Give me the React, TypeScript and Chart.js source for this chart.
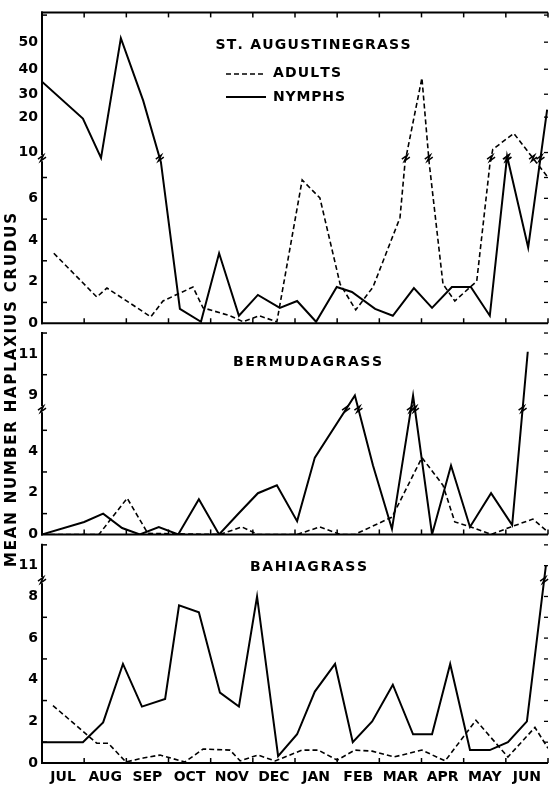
import React, { useEffect, useRef } from 'react';
import { Chart, LinearScale, registerables } from 'chart.js';

Chart.register(...registerables);

// ---------------- data ----------------
const MONTHS = ['JUL', 'AUG', 'SEP', 'OCT', 'NOV', 'DEC', 'JAN', 'FEB', 'MAR', 'APR', 'MAY', 'JUN'];

// St. Augustinegrass (x in months from 1 July)
const STA_NYMPH_X = [0, 0.97, 1.4, 1.87, 2.4, 2.82, 3.27, 3.77, 4.2, 4.67, 5.12, 5.64, 6.05, 6.5, 6.99, 7.35, 7.9, 8.32, 8.82, 9.25, 9.72, 10.17, 10.62, 11.03, 11.53, 11.98];
const STA_NYMPH_Y = [35, 19.6, 8.6, 51.5, 27.2, 7.74, 0.69, 0.07, 3.36, 0.36, 1.36, 0.74, 1.07, 0.07, 1.74, 1.5, 0.69, 0.36, 1.69, 0.74, 1.74, 1.74, 0.36, 9.0, 3.64, 23.3];
const STA_ADULT_X = [0.28, 1.3, 1.54, 2.58, 2.87, 3.58, 3.82, 4.46, 4.77, 5.15, 5.57, 6.17, 6.59, 7.07, 7.44, 7.85, 8.49, 8.61, 9.01, 9.18, 9.51, 9.79, 10.31, 10.62, 10.69, 11.19, 12.0];
const STA_ADULT_Y = [3.36, 1.26, 1.69, 0.31, 1.07, 1.74, 0.74, 0.36, 0.07, 0.36, 0.07, 6.88, 6.02, 1.88, 0.64, 1.74, 5.07, 7.74, 36.5, 7.74, 1.88, 1.07, 2.02, 7.6, 10.9, 15.4, 7.0];

// Bermudagrass
const BER_NYMPH_X = [0, 1.0, 1.45, 1.9, 2.32, 2.77, 3.23, 3.72, 4.2, 4.65, 5.12, 5.57, 6.05, 6.47, 7.42, 7.85, 8.3, 8.8, 9.25, 9.7, 10.15, 10.65, 11.15, 11.52];
const BER_NYMPH_Y = [0, 0.6, 1.0, 0.31, 0, 0.36, 0, 1.69, 0, 0.98, 1.98, 2.36, 0.64, 3.69, 9.0, 3.31, 0.26, 9.0, 0, 3.31, 0.36, 1.98, 0.45, 11.1];
const BER_ADULT_X = [0, 1.35, 2.02, 2.51, 4.22, 4.74, 5.12, 6.05, 6.59, 7.07, 7.42, 8.3, 9.01, 9.51, 9.79, 10.17, 10.65, 11.12, 11.64, 12.0];
const BER_ADULT_Y = [0, 0, 1.74, 0.05, 0, 0.36, 0, 0, 0.36, 0, 0, 0.83, 3.69, 2.36, 0.6, 0.36, 0, 0.36, 0.74, 0.12];

// Bahiagrass
const BAH_NYMPH_X = [0, 0.97, 1.45, 1.92, 2.37, 2.92, 3.25, 3.72, 4.22, 4.67, 5.1, 5.6, 6.05, 6.47, 6.95, 7.37, 7.83, 8.32, 8.8, 9.25, 9.68, 10.15, 10.62, 11.05, 11.5, 11.95];
const BAH_NYMPH_Y = [1.0, 1.0, 1.95, 4.76, 2.71, 3.08, 7.57, 7.24, 3.38, 2.71, 8.0, 0.33, 1.38, 3.43, 4.76, 1.0, 2.0, 3.76, 1.38, 1.38, 4.76, 0.62, 0.62, 1.0, 2.0, 11.0];
const BAH_ADULT_X = [0.26, 1.3, 1.57, 1.99, 2.4, 2.8, 3.39, 3.82, 4.46, 4.7, 5.12, 5.53, 6.17, 6.55, 7.0, 7.42, 7.83, 8.35, 9.01, 9.56, 10.29, 11.05, 11.69, 12.0];
const BAH_ADULT_Y = [2.76, 0.95, 0.95, 0.05, 0.24, 0.38, 0.05, 0.67, 0.62, 0.1, 0.38, 0.1, 0.62, 0.62, 0.14, 0.62, 0.57, 0.29, 0.62, 0.1, 2.05, 0.29, 1.71, 0.71];

// tick labels
const TOP_TICKS = [0, 2, 4, 6, 10, 20, 30, 40, 50];
const MID_TICKS = [0, 2, 4, 9, 11];
const BOT_TICKS = [0, 2, 4, 6, 8, 11];

const PANEL_TITLES = ['ST. AUGUSTINEGRASS', 'BERMUDAGRASS', 'BAHIAGRASS'];
const LEGEND_LABELS = ['ADULTS', 'NYMPHS'];
const Y_TITLE = 'MEAN NUMBER HAPLAXIUS CRUDUS';

// ---------------- broken-axis scale ----------------
const AXIS_MAPS: Record<string, number[][]> = {
  yTop: [[0, 0], [7.8, 7.8], [10, 8.2], [20, 9.9], [30, 11], [40, 12.2], [50, 13.5], [61, 14.93]],
  yMid: [[0, 0], [5.9, 5.9], [8.5, 6.17], [12.47, 10.14]],
  yBot: [[0, 0], [8.7, 8.7], [10.4, 8.88], [12.5, 10.98]],
};
const BREAKS: Record<string, number> = { yTop: 8.5, yMid: 7, yBot: 9.5 };
const AXIS_END: Record<string, number> = { yTop: 61, yMid: 12, yBot: 12 };
const MINOR: Record<string, number[]> = { yTop: [1, 3, 5, 7, 60], yMid: [1, 3, 5, 10], yBot: [1, 3, 5, 7] };
const RIGHT: Record<string, number[]> = {
  yTop: [1, 2, 3, 4, 5, 6, 7, 10, 20, 30, 40, 50, 60],
  yMid: [1, 2, 3, 4, 5, 9, 10, 11, 12],
  yBot: [1, 2, 3, 4, 5, 6, 7, 8, 11, 12],
};
const PANELS = ['yTop', 'yMid', 'yBot'];

function toU(m: number[][], v: number) {
  for (let i = 1; i < m.length; i++) {
    const [v0, u0] = m[i - 1];
    const [v1, u1] = m[i];
    if (v <= v1 || i === m.length - 1) return u0 + ((v - v0) * (u1 - u0)) / (v1 - v0);
  }
  return v;
}
function fromU(m: number[][], u: number) {
  for (let i = 1; i < m.length; i++) {
    const [v0, u0] = m[i - 1];
    const [v1, u1] = m[i];
    if (u <= u1 || i === m.length - 1) return v0 + ((u - u0) * (v1 - v0)) / (u1 - u0);
  }
  return u;
}

class BrokenScale extends LinearScale {
  static id = 'broken';
  static defaults = LinearScale.defaults;
  getPixelForValue(value: any) {
    if (value === null || value === undefined || isNaN(value)) return NaN;
    const m = AXIS_MAPS[(this as any).id];
    const u0 = toU(m, (this as any).min);
    const u1 = toU(m, (this as any).max);
    return (this as any).getPixelForDecimal((toU(m, value) - u0) / (u1 - u0));
  }
  getValueForPixel(pixel: number) {
    const m = AXIS_MAPS[(this as any).id];
    const u0 = toU(m, (this as any).min);
    const u1 = toU(m, (this as any).max);
    return fromU(m, u0 + (this as any).getDecimalForPixel(pixel) * (u1 - u0));
  }
}
Chart.register(BrokenScale as any);

// ---------------- drawing helpers ----------------
const FAMILY = "'DejaVu Sans', 'Liberation Sans', sans-serif";
const TICK_FONT = { family: FAMILY, size: 14, weight: 'bold' as const };

function drawSpaced(ctx: CanvasRenderingContext2D, text: string, cx: number, cy: number, width: number) {
  const chars = Array.from(text);
  const ws = chars.map((c) => ctx.measureText(c).width);
  const total = ws.reduce((a, b) => a + b, 0);
  const extra = chars.length > 1 ? (width - total) / (chars.length - 1) : 0;
  let x = cx - width / 2;
  ctx.textAlign = 'left';
  ctx.textBaseline = 'middle';
  chars.forEach((c, i) => {
    ctx.fillText(c, x, cy);
    x += ws[i] + extra;
  });
}

function zig(ctx: CanvasRenderingContext2D, x: number, y: number) {
  ctx.lineWidth = 1.5;
  ctx.setLineDash([]);
  ctx.beginPath();
  ctx.moveTo(x - 4, y + 1);
  ctx.lineTo(x + 1.5, y - 3);
  ctx.lineTo(x - 1.5, y + 3);
  ctx.lineTo(x + 4, y - 1);
  ctx.stroke();
}

const decorPlugin = {
  id: 'decor',
  afterDraw(chart: any) {
    const ctx: CanvasRenderingContext2D = chart.ctx;
    const xs = chart.scales.x;
    const { left, right, top } = chart.chartArea;
    ctx.save();
    ctx.strokeStyle = '#000';
    ctx.fillStyle = '#000';
    const seg = (x1: number, y1: number, x2: number, y2: number, w: number) => {
      ctx.lineWidth = w;
      ctx.beginPath();
      ctx.moveTo(x1, y1);
      ctx.lineTo(x2, y2);
      ctx.stroke();
    };
    // top frame
    seg(left - 1, top, right, top, 2);
    for (let i = 1; i <= 12; i++) {
      const x = xs.getPixelForValue(i);
      seg(x, top, x, top + 5, 1.5);
    }
    PANELS.forEach((id) => {
      const s = chart.scales[id];
      const y0 = s.getPixelForValue(0);
      seg(left - 1, y0, right, y0, 2);
      for (let i = 1; i <= 12; i++) {
        const x = xs.getPixelForValue(i);
        seg(x, y0, x, y0 - 5, 1.5);
      }
      const yEnd = id === 'yTop' ? top : s.getPixelForValue(AXIS_END[id]);
      seg(left, y0 + 1, left, yEnd - 1, 2);
      if (id !== 'yTop') seg(left - 1, yEnd, left + 5, yEnd, 1.5);
      MINOR[id].forEach((v) => {
        const y = s.getPixelForValue(v);
        seg(left, y, left + 5, y, 1.5);
      });
      RIGHT[id].forEach((v) => {
        const y = s.getPixelForValue(v);
        seg(right - 4, y, right, y, 1.3);
      });
      const yb = s.getPixelForValue(BREAKS[id]);
      ctx.fillStyle = '#fff';
      ctx.fillRect(left - 2, yb - 3, 4, 6);
      ctx.fillStyle = '#000';
      zig(ctx, left, yb);
    });

    // break markers where lines cross an axis break
    chart.data.datasets.forEach((ds: any, i: number) => {
      const meta = chart.getDatasetMeta(i);
      const id = meta.yAxisID;
      const s = chart.scales[id];
      const B = BREAKS[id];
      const yB = s.getPixelForValue(B);
      for (let k = 0; k < ds.data.length - 1; k++) {
        const a = ds.data[k].y;
        const b = ds.data[k + 1].y;
        if ((a - B) * (b - B) < 0) {
          const p1 = meta.data[k];
          const p2 = meta.data[k + 1];
          const t = (yB - p1.y) / (p2.y - p1.y);
          zig(ctx, p1.x + t * (p2.x - p1.x), yB);
        }
      }
    });

    // panel titles
    ctx.font = `bold 14px ${FAMILY}`;
    drawSpaced(ctx, PANEL_TITLES[0], 313, 45, 195);
    drawSpaced(ctx, PANEL_TITLES[1], 307.5, 362, 149);
    drawSpaced(ctx, PANEL_TITLES[2], 308.5, 567, 117);

    // legend
    ctx.setLineDash([5, 3]);
    seg(226, 74, 266, 74, 1.6);
    ctx.setLineDash([]);
    seg(226, 97, 266, 97, 2);
    drawSpaced(ctx, LEGEND_LABELS[0], 307, 73, 68);
    drawSpaced(ctx, LEGEND_LABELS[1], 309, 97, 72);

    // y-axis title
    ctx.font = `bold 15px ${FAMILY}`;
    ctx.translate(12, 390);
    ctx.rotate(-Math.PI / 2);
    drawSpaced(ctx, Y_TITLE, 0, 0, 354);
    ctx.restore();
  },
};

// ---------------- chart config ----------------
const pts = (xs: number[], ys: number[]) => xs.map((x, i) => ({ x, y: ys[i] }));
const SOLID = { borderColor: '#000', borderWidth: 2, pointRadius: 0, fill: false, tension: 0 };
const DASHED = { ...SOLID, borderWidth: 1.6, borderDash: [5, 3] };

function yScale(ticks: number[], max: number, weight: number, stackWeight: number) {
  return {
    type: 'broken',
    position: 'left',
    stack: 'panels',
    stackWeight,
    weight,
    min: 0,
    max,
    bounds: 'data',
    grid: { display: false, drawTicks: false },
    border: { display: false },
    afterBuildTicks: (s: any) => {
      s.ticks = ticks.map((v) => ({ value: v }));
    },
    afterFit: (s: any) => {
      s.width = 34;
    },
    ticks: {
      autoSkip: false,
      padding: 4,
      color: '#000',
      font: TICK_FONT,
      callback: (v: any) => String(v),
    },
  };
}

export default function App() {
  const ref = useRef<HTMLCanvasElement>(null);
  useEffect(() => {
    if (!ref.current) return;
    const chart = new Chart(ref.current, {
      type: 'line',
      data: {
        datasets: [
          { label: 'St. Augustinegrass adults', data: pts(STA_ADULT_X, STA_ADULT_Y), yAxisID: 'yTop', xAxisID: 'x', ...DASHED },
          { label: 'St. Augustinegrass nymphs', data: pts(STA_NYMPH_X, STA_NYMPH_Y), yAxisID: 'yTop', xAxisID: 'x', ...SOLID },
          { label: 'Bermudagrass adults', data: pts(BER_ADULT_X, BER_ADULT_Y), yAxisID: 'yMid', xAxisID: 'x', ...DASHED },
          { label: 'Bermudagrass nymphs', data: pts(BER_NYMPH_X, BER_NYMPH_Y), yAxisID: 'yMid', xAxisID: 'x', ...SOLID },
          { label: 'Bahiagrass adults', data: pts(BAH_ADULT_X, BAH_ADULT_Y), yAxisID: 'yBot', xAxisID: 'x', ...DASHED },
          { label: 'Bahiagrass nymphs', data: pts(BAH_NYMPH_X, BAH_NYMPH_Y), yAxisID: 'yBot', xAxisID: 'x', ...SOLID },
        ] as any,
      },
      options: {
        animation: false,
        responsive: false,
        maintainAspectRatio: false,
        layout: { padding: { left: 8, right: 1, top: 6, bottom: 0 } },
        plugins: { legend: { display: false }, tooltip: { enabled: false } },
        scales: {
          x: {
            type: 'linear',
            position: 'bottom',
            min: 0,
            max: 12,
            bounds: 'data',
            grid: { display: false, drawTicks: false },
            border: { display: false },
            afterBuildTicks: (s: any) => {
              s.ticks = MONTHS.map((_, i) => ({ value: i + 0.5 }));
            },
            afterFit: (s: any) => {
              s.height = 23;
            },
            ticks: {
              autoSkip: false,
              maxRotation: 0,
              padding: 6,
              color: '#000',
              font: TICK_FONT,
              callback: (v: any) => MONTHS[Math.floor(v)],
            },
          },
          yTop: yScale(TOP_TICKS, 61, 3, 313.5),
          yMid: yScale(MID_TICKS, 12.47, 2, 213),
          yBot: yScale(BOT_TICKS, 12.5, 1, 230.5),
        } as any,
      },
      plugins: [decorPlugin],
    });
    return () => chart.destroy();
  }, []);
  return (
    <div style={{ position: 'fixed', left: 0, top: 0, width: 549, height: 786, background: '#fff' }}>
      <canvas ref={ref} width={549} height={786} style={{ display: 'block', width: 549, height: 786 }} />
    </div>
  );
}
